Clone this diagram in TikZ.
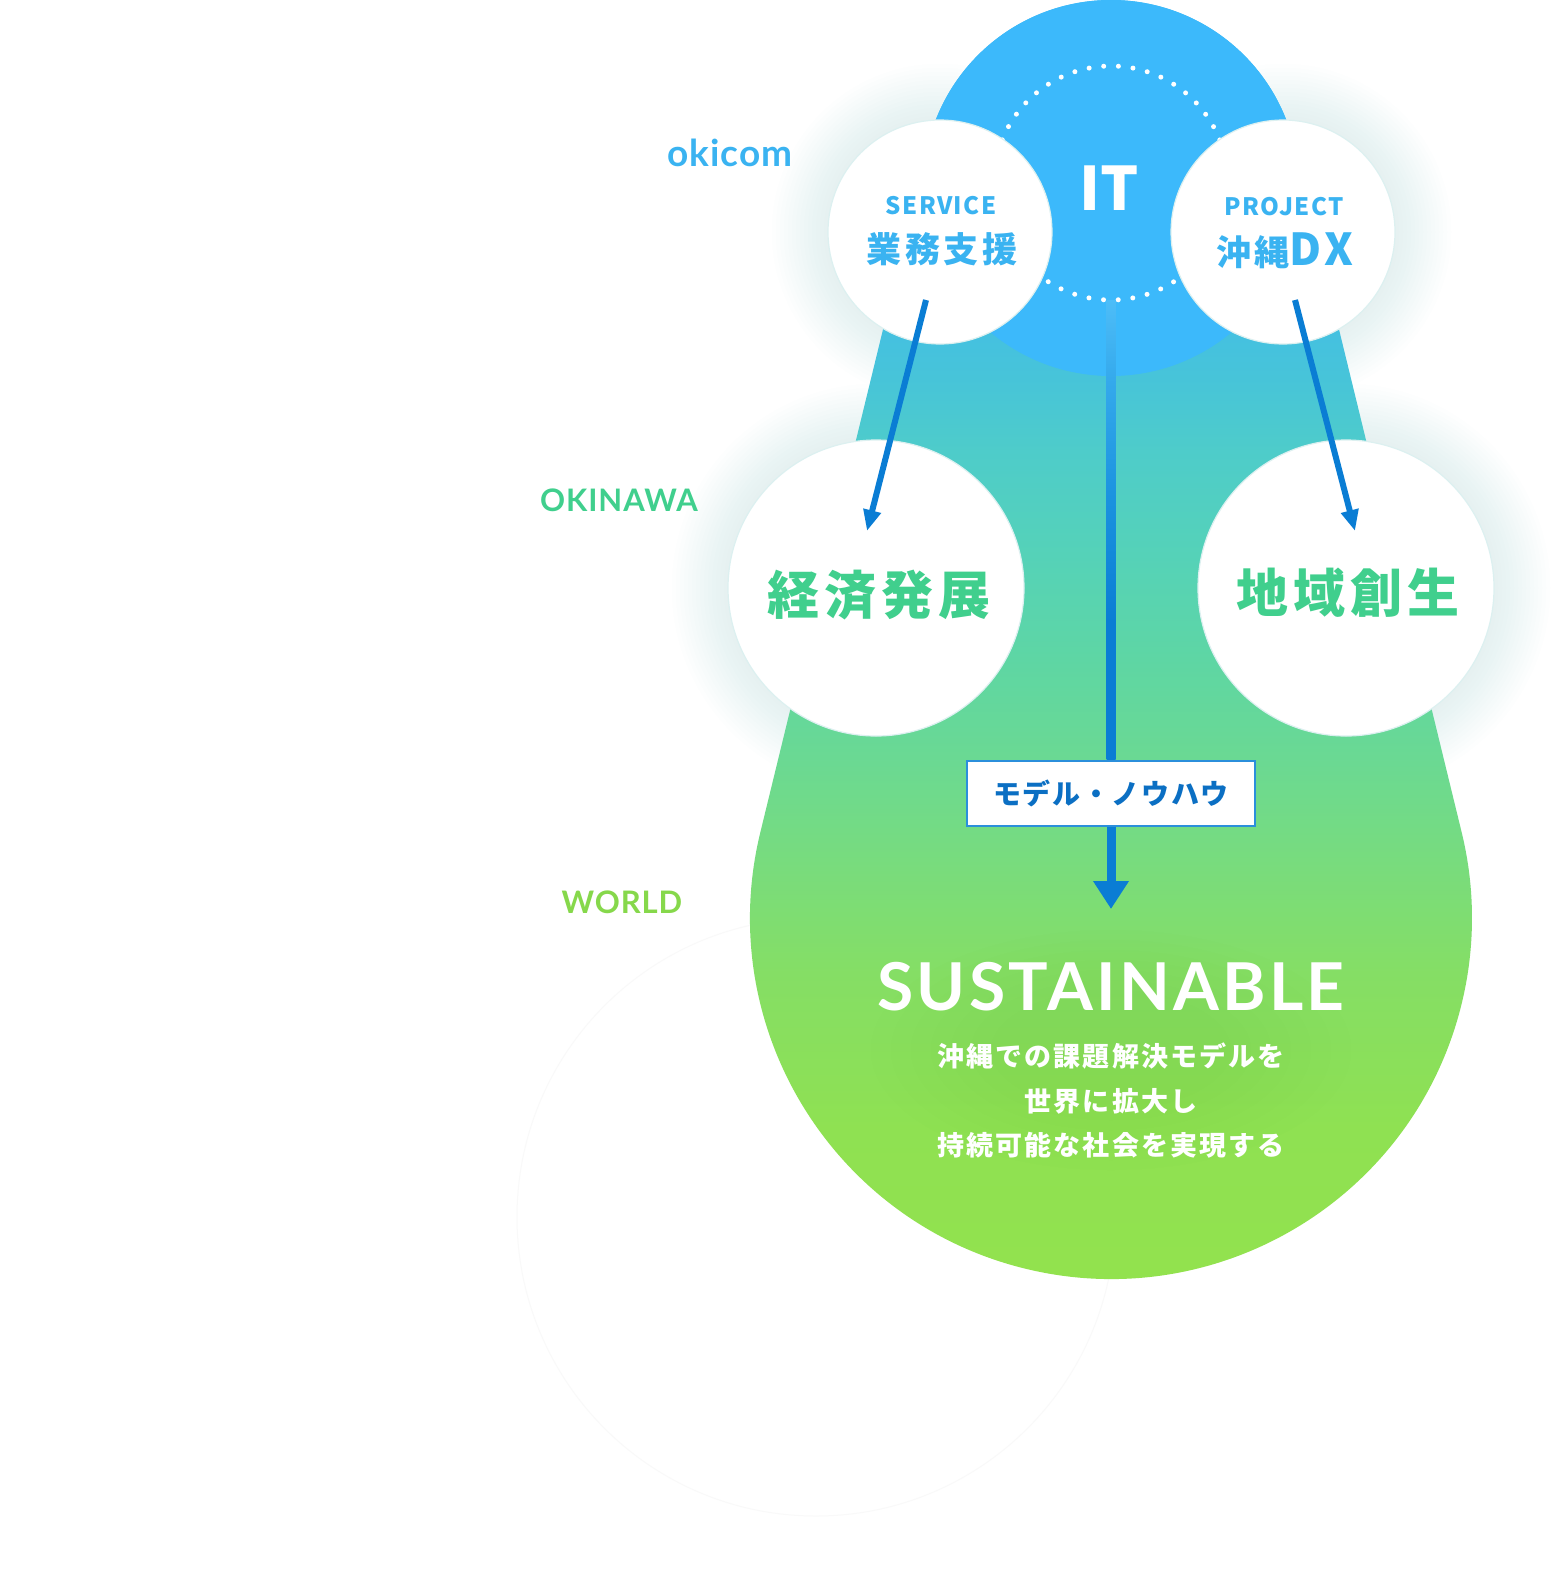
\documentclass[tikz,border=0pt]{standalone}
\usepackage{fontspec}
\usetikzlibrary{arrows.meta,calc}
\newfontfamily\lato{Lato}
\newfontfamily\latolbl{Lato}[LetterSpace=3]
\newfontfamily\latosp{Lato}[LetterSpace=5]
\newfontfamily\jp{Noto Sans CJK JP}
\newfontfamily\jpsp{Noto Sans CJK JP}[LetterSpace=10]
\newfontfamily\jpsm{Noto Sans CJK JP}[LetterSpace=6]
\newfontfamily\jpbody{Noto Sans CJK JP}[LetterSpace=8]
\definecolor{itblue}{HTML}{3CB9FB}
\definecolor{txtblue}{HTML}{3AB3F1}
\definecolor{txtgreen}{HTML}{40CF8D}
\definecolor{worldgreen}{HTML}{86D84B}
\definecolor{arrowblue}{HTML}{0A7DD4}
\definecolor{boxblue}{HTML}{2B8FDB}
\definecolor{boxtext}{HTML}{0B6FC3}
\definecolor{halo}{HTML}{D3EBEF}
\definecolor{rimcol}{HTML}{DCF0F0}
\definecolor{glowgreen}{HTML}{4FB522}
\definecolor{d0}{HTML}{93E24D}
\definecolor{d1}{HTML}{8FE152}
\definecolor{d2}{HTML}{85DE65}
\definecolor{d3}{HTML}{79DC7C}
\definecolor{d4}{HTML}{6BD992}
\definecolor{d5}{HTML}{5ED6A4}
\definecolor{d6}{HTML}{55D2B8}
\definecolor{d7}{HTML}{4ECCCA}
\definecolor{d8}{HTML}{47C4D9}
\definecolor{d9}{HTML}{42BEE6}
\definecolor{d10}{HTML}{3CB9F8}
\definecolor{l1}{HTML}{1A92DF}
\definecolor{l2}{HTML}{35AAEC}
\definecolor{l3}{HTML}{4DBDF8}
% path bounding box maps onto 25bp..75bp of the shading
\pgfdeclareverticalshading{dropshade}{100bp}{color(0bp)=(d0); color(25bp)=(d0); color(32bp)=(d1); color(37.85bp)=(d2); color(41.75bp)=(d3); color(45.7bp)=(d4); color(49.6bp)=(d5); color(53.5bp)=(d6); color(57.4bp)=(d7); color(60.15bp)=(d8); color(63.25bp)=(d9); color(75bp)=(d10); color(100bp)=(d10)}
\pgfdeclareverticalshading{lineshade}{100bp}{color(0bp)=(arrowblue); color(40bp)=(arrowblue); color(53bp)=(l1); color(66.5bp)=(l2); color(75bp)=(l3); color(100bp)=(l3)}
\tikzset{
  wcirc/.style={circle, fill=white, draw=rimcol, line width=1.2pt, inner sep=0pt},
  arr/.style={draw=arrowblue, line width=6pt, -{Triangle[length=21pt,width=17pt]}},
  varr/.style={draw=arrowblue, line width=9pt, -{Triangle[length=28pt,width=34pt]}},
  lbl/.style={inner sep=0pt},
}
\begin{document}
\begin{tikzpicture}[x=1pt,y=1pt]
\fill[white] (0,0) rectangle (1564,-1596);
\useasboundingbox (0,0) rectangle (1564,-1596);

% coordinates of centres
\coordinate (csvc) at (940,-232);
\coordinate (cprj) at (1283,-232);
\coordinate (ckei) at (876,-588);
\coordinate (cchi) at (1346,-588);
\coordinate (cit) at (1111,-188);
\coordinate (cbig) at (1111,-918);
\coordinate (cworld) at (816,-1217);

% faint world circle with soft shadow
\foreach \i in {1,...,14}{
  \fill[black, opacity=0.0019] ($(cworld)+(0,-16)$) circle[radius={(296+3*\i)*1pt}];
}
\node[circle, fill=white, draw=black!2.5, line width=1pt, minimum size=598pt, inner sep=0pt] (world) at (cworld) {};

% halos of white circles
\foreach \p/\r in {csvc/112,cprj/112,ckei/148,cchi/148}{
  \foreach \i in {1,...,14}{
    \fill[halo, opacity=0.045] (\p) circle[radius={(\r+4*\i)*1pt}];
  }
}

% drop shape
\path[shading=dropshade] (cit) ++(13.71:188pt)
  arc[start angle=13.71, end angle=166.29, radius=188pt]
  -- ($(cbig)+(166.29:361pt)$)
  arc[start angle=166.29, end angle=373.71, radius=361pt] -- cycle;

% soft dark glow behind the bottom text
\foreach \i in {0,...,6}{
  \fill[glowgreen, opacity=0.016] (1111,-1050) ellipse[x radius={(240-20*\i)*1pt}, y radius={(120-10*\i)*1pt}];
}

% IT circle
\node[circle, fill=itblue, minimum size=376pt, inner sep=0pt] (it) at (cit) {};
\draw[white, line width=5pt, line cap=round, dash pattern=on 0pt off 14.7pt] (1111,-183) circle[radius=117pt];

% white circles
\node[wcirc, minimum size=224pt] (svc) at (csvc) {};
\node[wcirc, minimum size=224pt] (prj) at (cprj) {};
\node[wcirc, minimum size=296pt] (kei) at (ckei) {};
\node[wcirc, minimum size=296pt] (chi) at (cchi) {};

% box
\node[draw=boxblue, line width=2pt, fill=white, minimum width=288pt, minimum height=65pt, inner sep=0pt,
      text=boxtext, font=\jpsm\bfseries\fontsize{28}{30}\selectfont] (box) at (1111,-793) {モデル・ノウハウ};

% vertical connector (fading) from IT to box
\coordinate (vtop) at (1111,-300);
\path[shading=lineshade] ($(vtop)+(-4.5,0)$) rectangle ($(box.north)+(4.5,0)$);
\coordinate (vtip) at (1111,-909);
\draw[varr] (box.south) -- (vtip);

% slanted arrows
\coordinate (a1s) at (926,-300);
\coordinate (a1e) at (867,-531);
\coordinate (a2s) at (1295,-300);
\coordinate (a2e) at (1355,-531);
\draw[arr] (a1s) -- (a1e);
\draw[arr] (a2s) -- (a2e);

% texts
\node[lbl, text=txtblue, font=\latolbl\bfseries\fontsize{37}{40}\selectfont] (okicom) at (730,-153) {okicom};
\node[lbl, text=txtgreen, font=\latolbl\bfseries\fontsize{31}{34}\selectfont] (okinawa) at (619,-500) {OKINAWA};
\node[lbl, text=worldgreen, font=\latolbl\bfseries\fontsize{31}{34}\selectfont] (worldlbl) at (622,-902) {WORLD};

\node[lbl, text=white, font=\jp\bfseries\fontsize{60}{64}\selectfont] (itl) at (1109,-188) {IT};
\node[lbl, text=txtblue, font=\jpsm\bfseries\fontsize{24}{26}\selectfont] (svcl) at (941,-206) {SERVICE};
\node[lbl, text=txtblue, font=\jpsp\bfseries\fontsize{35}{38}\selectfont] (svcj) at (942,-249) {業務支援};
\node[lbl, text=txtblue, font=\jpsm\bfseries\fontsize{24}{26}\selectfont] (prjl) at (1284,-207) {PROJECT};
\node[lbl, text=txtblue, font=\jpsp\bfseries\fontsize{35}{38}\selectfont] (prjj) at (1285,-251) {沖縄{\fontsize{44}{46}\selectfont DX}};
\node[lbl, text=txtgreen, font=\jpsp\bfseries\fontsize{52}{54}\selectfont] (keil) at (879,-595) {経済発展};
\node[lbl, text=txtgreen, font=\jpsp\bfseries\fontsize{52}{54}\selectfont] (chil) at (1348,-593) {地域創生};

\node[lbl, text=white, font=\latosp\bfseries\fontsize{66}{70}\selectfont] (sus) at (1111,-987) {SUSTAINABLE};
\node[lbl, text=white, font=\jpbody\bfseries\fontsize{27}{30}\selectfont] (t1) at (1111,-1056) {沖縄での課題解決モデルを};
\node[lbl, text=white, font=\jpbody\bfseries\fontsize{27}{30}\selectfont] (t2) at (1111,-1101) {世界に拡大し};
\node[lbl, text=white, font=\jpbody\bfseries\fontsize{27}{30}\selectfont] (t3) at (1111,-1145) {持続可能な社会を実現する};
\end{tikzpicture}
\end{document}
